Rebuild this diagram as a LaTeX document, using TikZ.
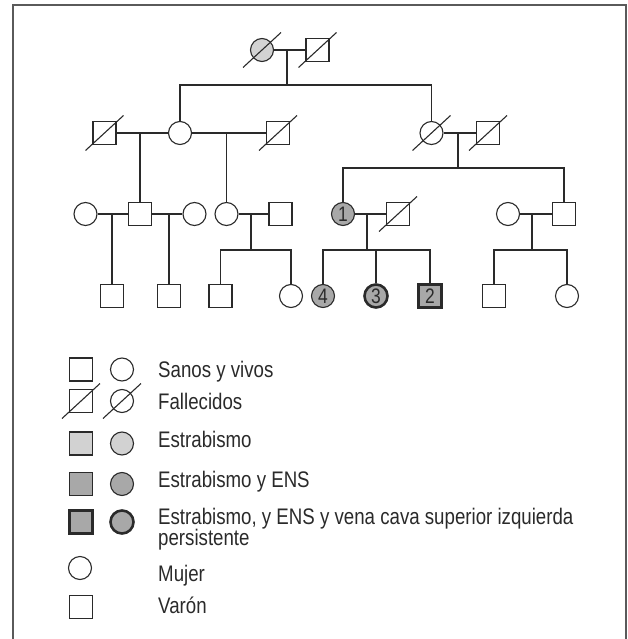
\documentclass[tikz,border=0pt]{standalone}
\usepackage{fontspec}
\setmainfont{Liberation Sans}[FakeStretch=0.83]
\usepackage{tikz}

\definecolor{framegray}{HTML}{5A5A5A}
\definecolor{estra}{HTML}{D2D2D2}
\definecolor{ens}{HTML}{A8A8A8}
\definecolor{ink}{HTML}{2A2A2A}

\tikzset{
  male/.style={draw=ink, rectangle, minimum size=23pt, inner sep=0pt, line width=1.1pt, text=ink, font=\fontsize{21}{21}\selectfont},
  female/.style={draw=ink, circle, minimum size=23pt, inner sep=0pt, line width=1.1pt, text=ink, font=\fontsize{21}{21}\selectfont},
  kin/.style={draw=ink, line width=1.1pt},
  slashline/.style={draw=ink, line width=1.1pt},
  vcs/.style={line width=2.6pt},
  legtext/.style={anchor=base west, inner sep=0pt, text=ink, font=\fontsize{22.5}{22.5}\selectfont}
}

\newcommand\deceased[1]{\draw[slashline] ([shift={(-19,17.5)}]#1.center) -- ([shift={(19,-17.5)}]#1.center);}

\begin{document}
\begin{tikzpicture}[x=1pt, y=-1pt]
  \useasboundingbox (0,0) rectangle (628,639);
  \draw[framegray, line width=1.5pt] (13,639) -- (13,5) -- (626,5) -- (626,639);

  \node[female, fill=estra] (i1) at (262,50) {};
  \node[male] (i2) at (317.5,50) {};

  \node[male] (ii1) at (104.5,133) {};
  \node[female] (ii2) at (180,133) {};
  \node[male] (ii3) at (278,133) {};
  \node[female] (ii4) at (431.5,133) {};
  \node[male] (ii5) at (488,133) {};

  \node[female] (iii1) at (85.5,214) {};
  \node[male] (iii2) at (140,214) {};
  \node[female] (iii3) at (194.5,214) {};
  \node[female] (iii4) at (226.5,214) {};
  \node[male] (iii5) at (280.5,214) {};
  \node[female, fill=ens] (iii6) at (343,214) {1};
  \node[male] (iii7) at (398,214) {};
  \node[female] (iii8) at (508,214) {};
  \node[male] (iii9) at (564,214) {};

  \node[male] (iv1) at (112,296) {};
  \node[male] (iv2) at (169,296) {};
  \node[male] (iv3) at (220.5,296) {};
  \node[female] (iv4) at (291,296) {};
  \node[female, fill=ens] (iv5) at (323,296) {4};
  \node[female, fill=ens, vcs] (iv6) at (376,296) {3};
  \node[male, fill=ens, vcs] (iv7) at (430,296) {2};
  \node[male] (iv8) at (494,296) {};
  \node[female] (iv9) at (567,296) {};

  \draw[kin] (i1) -- (i2);
  \coordinate (m1) at (287,50);
  \coordinate (s1) at (287,85);
  \draw[kin] (m1) -- (s1);
  \draw[kin] (ii2) -- (ii2 |- s1) -- (ii4 |- s1) -- (ii4);

  \draw[kin] (ii1) -- (ii2);
  \draw[kin] (ii2) -- (ii3);
  \draw[kin] (ii4) -- (ii5);
  \draw[kin] (iii2 |- ii1) -- (iii2);
  \draw[kin] (iii4 |- ii2) -- (iii4);
  \coordinate (m2) at (458,133);
  \coordinate (s2) at (458,168);
  \draw[kin] (m2) -- (s2);
  \draw[kin] (iii6) -- (iii6 |- s2) -- (iii9 |- s2) -- (iii9);

  \draw[kin] (iii1) -- (iii2);
  \draw[kin] (iii2) -- (iii3);
  \draw[kin] (iii4) -- (iii5);
  \draw[kin] (iii6) -- (iii7);
  \draw[kin] (iii8) -- (iii9);
  \draw[kin] (iv1 |- iii1) -- (iv1);
  \draw[kin] (iv2 |- iii2) -- (iv2);
  \coordinate (s3) at (251,250);
  \draw[kin] (s3 |- iii4) -- (s3);
  \draw[kin] (iv3) -- (iv3 |- s3) -- (iv4 |- s3) -- (iv4);
  \coordinate (s4) at (367,250);
  \draw[kin] (s4 |- iii6) -- (s4);
  \draw[kin] (iv5) -- (iv5 |- s4) -- (iv7 |- s4) -- (iv7);
  \draw[kin] (iv6 |- s4) -- (iv6);
  \coordinate (s5) at (532,250);
  \draw[kin] (s5 |- iii8) -- (s5);
  \draw[kin] (iv8) -- (iv8 |- s5) -- (iv9 |- s5) -- (iv9);

  \foreach \n in {i1,i2,ii1,ii3,ii4,ii5,iii7} {\deceased{\n}}

  \node[male] (lsq1) at (81,369.5) {};
  \node[female] (lci1) at (122,369.5) {};
  \node[legtext] (lt1) at (158,377) {Sanos y vivos};
  \node[male] (lsq2) at (81,401) {};
  \node[female] (lci2) at (122,401) {};
  \node[legtext] (lt2) at (158,409) {Fallecidos};
  \node[male, fill=estra] (lsq3) at (81,443.5) {};
  \node[female, fill=estra] (lci3) at (122,443.5) {};
  \node[legtext] (lt3) at (158,447) {Estrabismo};
  \node[male, fill=ens] (lsq4) at (81,484) {};
  \node[female, fill=ens] (lci4) at (122,484) {};
  \node[legtext] (lt4) at (158,487) {Estrabismo y ENS};
  \node[male, fill=ens, vcs] (lsq5) at (81,522) {};
  \node[female, fill=ens, vcs] (lci5) at (122,522) {};
  \node[legtext] (lt5) at (158,524) {Estrabismo, y ENS y vena cava superior izquierda};
  \node[legtext] (lt5b) at (158,545) {persistente};
  \node[female] (lci6) at (80,568) {};
  \node[legtext] (lt6) at (158,581) {Mujer};
  \node[male] (lsq7) at (81,607) {};
  \node[legtext] (lt7) at (158,613) {Varón};

  \foreach \n in {lsq2,lci2} {\deceased{\n}}
\end{tikzpicture}
\end{document}
